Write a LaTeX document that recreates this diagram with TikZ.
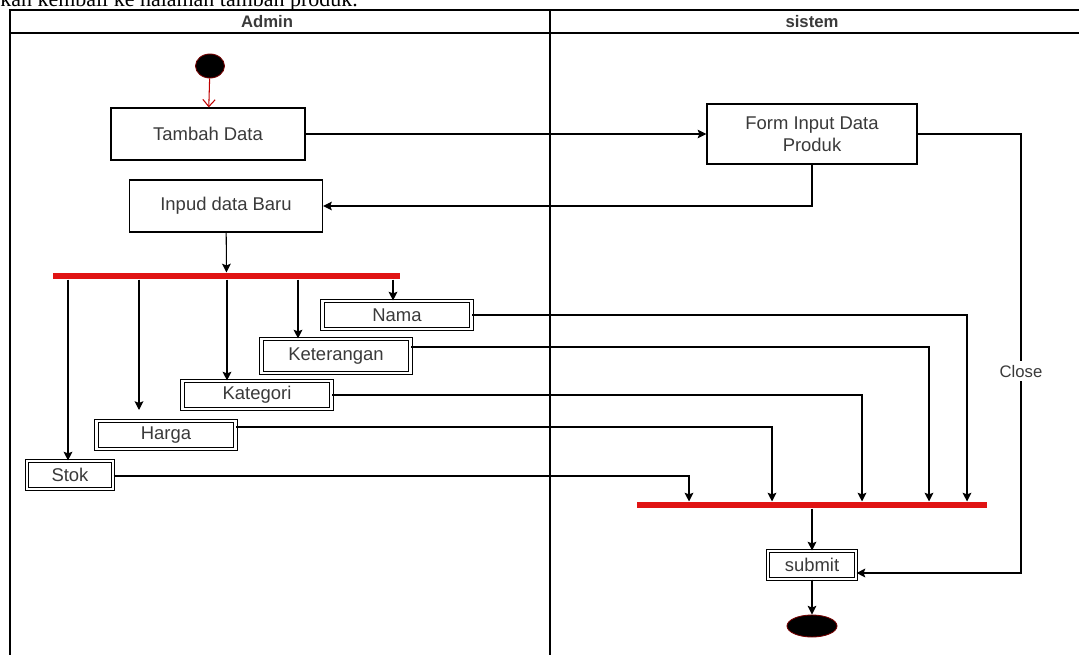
\documentclass[tikz,border=0pt]{standalone}
\usepackage{fontspec}
\setmainfont{Liberation Sans}
\newfontfamily\captionserif{Liberation Serif}
\usetikzlibrary{arrows.meta,shapes.geometric}
\newdimen\upx
\upx=0.02cm
\definecolor{forkred}{HTML}{E01414}
\definecolor{txtgray}{HTML}{3A3A3A}
\tikzset{
  act/.style={draw=black, line width=0.7pt, fill=white, text=txtgray,
    font=\fontsize{10.5}{12.5}\selectfont, inner sep=0pt, align=center},
  dbl/.style={draw=black, double=white, double distance=1.3pt, line width=0.6pt,
    fill=white, text=txtgray, font=\fontsize{10.5}{12.5}\selectfont, inner sep=0pt},
  bar/.style={fill=forkred, draw=none, inner sep=0pt, minimum height=3.6pt},
  arr/.style={draw=black, line width=0.6pt, -{Stealth[length=5pt,width=5pt,inset=1pt]}},
  lane/.style={draw=black, line width=0.9pt},
  lanehead/.style={font=\bfseries\fontsize{9.5}{11}\selectfont, text=txtgray},
  dot/.style={ellipse, fill=black, draw=red!45!black, line width=0.5pt, inner sep=0pt}
}
\begin{document}
\begin{tikzpicture}[x=0.02cm, y=-0.02cm]
\useasboundingbox (0,0) rectangle (1079,655);

% caption line above the lanes, clipped at the top edge
\begin{scope}
  \clip (0,0) rectangle (1079,10);
  \node[anchor=base west, inner sep=0pt, font=\captionserif\fontsize{12.5}{14}\selectfont]
    (caption) at (0,7) {kan kembali ke halaman tambah produk.};
\end{scope}

% swimlanes
\draw[lane] (1079,10) -- (10,10) -- (10,655);
\draw[lane] (10,33) -- (1079,33);
\draw[lane] (550,10) -- (550,655);
\node[lanehead] (hadmin) at (267,22) {Admin};
\node[lanehead] (hsistem) at (812,22) {sistem};

% start and end
\node[dot, minimum width=29\upx, minimum height=24\upx] (start) at (210,66) {};
\node[dot, minimum width=50\upx, minimum height=22\upx] (end) at (812,626) {};

% actions
\node[act, minimum width=194\upx, minimum height=52\upx] (tambah) at (208,134) {Tambah Data};
\node[act, minimum width=193\upx, minimum height=52\upx] (inpud) at (226,206) {Inpud data Baru};
\node[act, minimum width=210\upx, minimum height=60\upx] (form) at (812,134) {Form Input Data\\Produk};

\node[dbl, minimum width=149\upx, minimum height=28\upx] (nama) at (397,315) {Nama};
\node[dbl, minimum width=149\upx, minimum height=34\upx] (ket) at (336,356) {Keterangan};
\node[dbl, minimum width=149\upx, minimum height=28\upx] (kat) at (257,395) {Kategori};
\node[dbl, minimum width=139\upx, minimum height=28\upx] (harga) at (166,435) {Harga};
\node[dbl, minimum width=86\upx, minimum height=28\upx] (stok) at (70,475) {Stok};
\node[dbl, minimum width=88\upx, minimum height=28\upx] (submit) at (812,565) {submit};

% fork and join bars
\node[bar, minimum width=347\upx] (fork) at (226.5,276) {};
\node[bar, minimum width=350\upx] (join) at (812,505) {};

% main flow
\draw[draw=red!75!black, line width=0.6pt, -{Straight Barb[length=4pt,width=7pt]}] (start) -- (tambah);
\draw[arr] (tambah) -- (form);
\draw[arr] (form.south) |- (inpud.east);
\draw[arr] (inpud) -- (fork);

% fork branches
\coordinate (hargaend) at (139,410);
\draw[arr] (fork.south -| 68,0) -- (stok.north -| 68,0);
\draw[arr] (fork.south -| hargaend) -- (hargaend);
\draw[arr] (fork.south -| 227,0) -- (kat.north -| 227,0);
\draw[arr] (fork.south -| 298,0) -- (ket.north -| 298,0);
\draw[arr] (fork.south -| 393,0) -- (nama.north -| 393,0);

% branches into the join
\draw[arr] (nama.east) -| (join.north -| 967,0);
\draw[arr] (ket.east) ++(0,-9) -| (join.north -| 929,0);
\draw[arr] (kat.east) -| (join.north -| 862,0);
\draw[arr] (harga.east) ++(0,-8) -| (join.north -| 772,0);
\draw[arr] (stok.east) ++(0,1) -| (join.north -| 689,0);

\draw[arr] (join) -- (submit);
\draw[arr] (submit) -- (end);

% close path
\coordinate (closecorner) at (1021,134);
\draw[arr] (form.east) -- (closecorner) |- ([yshift=-8\upx]submit.east)
  node[pos=0.27, fill=white, inner sep=2pt, text=txtgray,
       font=\fontsize{9.5}{11}\selectfont] (closelbl) {Close};
\end{tikzpicture}
\end{document}
